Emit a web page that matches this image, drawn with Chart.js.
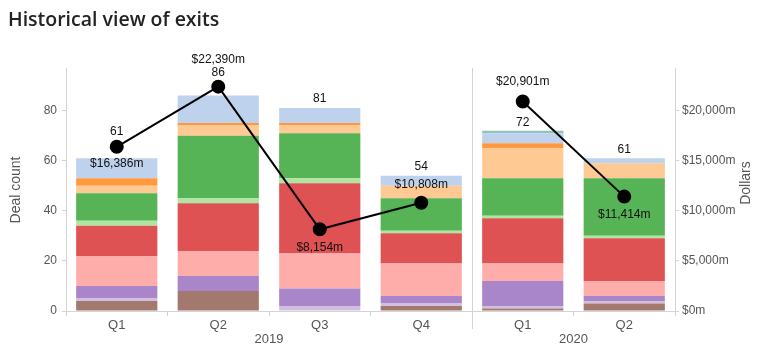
<!DOCTYPE html>
<html>
<head>
<meta charset="utf-8">
<script src="https://cdn.jsdelivr.net/npm/chart.js@4.4.1/dist/chart.umd.min.js"></script>
<style>
  body { margin: 0; background: #fff; }
  #wrap { position: relative; width: 759px; height: 351px; }
  #title { position: absolute; left: 8px; top: 5px; font: 600 19.5px "Open Sans", sans-serif; color: #222; }
  canvas { position: absolute; left: 0; top: 0; }
</style>
</head>
<body>
<div id="wrap">
  <canvas id="exits" width="759" height="351"></canvas>
  <div id="title">Historical view of exits</div>
</div>
<script>
const quarters = ['Q1', 'Q2', 'Q3', 'Q4', 'Q1', 'Q2'];
const years = ['2019', '2019', '2019', '2019', '2020', '2020'];

// deal counts per segment, bottom to top
const brown   = [4, 8, 0, 2, 1, 3];
const lilac   = [1, 0, 2, 1, 1, 1];
const purple  = [5, 6, 7, 3, 10, 2];
const pink    = [12, 10, 14, 13, 7, 6];
const red     = [12, 19, 28, 12, 18, 17];
const mint    = [2, 2, 2, 1, 1, 1];
const green   = [11, 25, 18, 13, 15, 23];
const peach   = [3, 4, 3, 5, 12, 6];
const orange  = [3, 1, 1, 0, 2, 0];
const skyblue = [8, 11, 6, 4, 4, 2];
const teal    = [0, 0, 0, 0, 1, 0];

// exit value, $m
const dollars = [16386, 22390, 8154, 10808, 20901, 11414];

const countTicks = [0, 20, 40, 60, 80];
const dollarTicks = [0, 5000, 10000, 15000, 20000];

const segs = [
  [brown, 'rgb(163,120,111)'],
  [lilac, 'rgb(209,192,221)'],
  [purple, 'rgb(169,133,202)'],
  [pink, 'rgb(255,173,171)'],
  [red, 'rgb(222,82,83)'],
  [mint, 'rgb(173,229,161)'],
  [green, 'rgb(86,179,86)'],
  [peach, 'rgb(255,201,147)'],
  [orange, 'rgb(255,153,62)'],
  [skyblue, 'rgb(190,210,237)'],
  [teal, 'rgb(143,196,186)']
];

const fmt = v => '$' + v.toLocaleString('en-US') + 'm';
const totals = quarters.map((q, i) => segs.reduce((s, d) => s + d[0][i], 0));

const tickFont = { family: '"Liberation Sans", Arial', size: 12 };
const axisGrey = '#d4d4d4';

// label placement tweaks (like the original's collision avoidance)
const countAt = [['pt', -15], ['pt', -14], ['bar', -9], ['bar', -9], ['bar', -8], ['bar', -8]];
const dollarAt = [17, -27, 18, -18, -20, 18];

const extras = {
  id: 'extras',
  afterDatasetsDraw(chart) {
    const ctx = chart.ctx;
    const xs = chart.scales.x, y = chart.scales.y, y2 = chart.scales.y2;
    ctx.save();
    ctx.font = '12px "Liberation Sans", Arial';
    ctx.fillStyle = '#111';
    ctx.textAlign = 'center';
    ctx.textBaseline = 'middle';
    quarters.forEach((q, i) => {
      const x = xs.getPixelForValue(i);
      const py = y2.getPixelForValue(dollars[i]);
      const by = y.getPixelForValue(totals[i]);
      const c = countAt[i];
      ctx.fillText(String(totals[i]), x, (c[0] === 'pt' ? py : by) + c[1]);
      ctx.fillText(fmt(dollars[i]), x, py + dollarAt[i]);
    });
    ctx.restore();
  },
  afterDraw(chart) {
    const ctx = chart.ctx;
    const xs = chart.scales.x;
    const area = chart.chartArea;
    ctx.save();
    // year separators
    ctx.strokeStyle = axisGrey;
    ctx.lineWidth = 1;
    for (let i = 1; i < years.length; i++) {
      if (years[i] !== years[i - 1]) {
        const sx = Math.round((xs.getPixelForValue(i - 1) + xs.getPixelForValue(i)) / 2) + 0.5;
        ctx.beginPath();
        ctx.moveTo(sx, area.top);
        ctx.lineTo(sx, area.bottom + 18);
        ctx.stroke();
      }
    }
    // year labels
    ctx.font = '13px "Liberation Sans", Arial';
    ctx.fillStyle = '#555';
    ctx.textAlign = 'center';
    ctx.textBaseline = 'middle';
    [...new Set(years)].forEach(yr => {
      const idx = years.map((v, i) => v === yr ? i : -1).filter(i => i >= 0);
      const cx = idx.reduce((s, i) => s + xs.getPixelForValue(i), 0) / idx.length;
      ctx.fillText(yr, cx, area.bottom + 28);
    });
    // axis titles
    ctx.font = '14px "Liberation Sans", Arial';
    ctx.translate(16, 190);
    ctx.rotate(-Math.PI / 2);
    ctx.fillText('Deal count', 0, 0);
    ctx.rotate(Math.PI / 2);
    ctx.translate(746 - 16, 183 - 190);
    ctx.rotate(-Math.PI / 2);
    ctx.fillText('Dollars', 0, 0);
    ctx.restore();
  }
};

const barSets = segs.map((s, i) => ({
  type: 'bar',
  label: 'Segment ' + (i + 1),
  data: s[0],
  backgroundColor: s[1],
  borderWidth: 0,
  barPercentage: 0.8,
  categoryPercentage: 1,
  yAxisID: 'y',
  order: 2
}));

new Chart(document.getElementById('exits'), {
  type: 'bar',
  data: {
    labels: quarters,
    datasets: [{
      type: 'line',
      label: 'Dollars',
      data: dollars,
      yAxisID: 'y2',
      borderColor: '#000',
      borderWidth: 2,
      pointRadius: 6,
      pointBackgroundColor: '#000',
      pointBorderColor: '#000',
      tension: 0,
      order: 0,
      segment: {
        borderColor: c => years[c.p0DataIndex] !== years[c.p1DataIndex] ? 'rgba(0,0,0,0)' : '#000'
      }
    }, ...barSets]
  },
  options: {
    responsive: false,
    animation: false,
    layout: { padding: { top: 68 } },
    plugins: { legend: { display: false }, tooltip: { enabled: false } },
    scales: {
      x: {
        stacked: true,
        grid: { offset: true, drawOnChartArea: false, tickLength: 5, color: axisGrey },
        border: { color: axisGrey },
        ticks: { font: { family: '"Liberation Sans", Arial', size: 13 }, color: '#555', padding: 2 },
        afterFit: s => { s.height = 40; }
      },
      y: {
        stacked: true,
        position: 'left',
        min: 0,
        max: 97,
        afterBuildTicks: s => { s.ticks = countTicks.map(v => ({ value: v })); },
        ticks: { font: tickFont, color: '#555', padding: 5 },
        grid: { drawOnChartArea: false, tickLength: 4, color: axisGrey },
        border: { color: axisGrey },
        afterFit: s => { s.width = 66; }
      },
      y2: {
        position: 'right',
        min: 0,
        max: 24250,
        afterBuildTicks: s => { s.ticks = dollarTicks.map(v => ({ value: v })); },
        ticks: { font: tickFont, color: '#555', padding: 3, autoSkip: false, callback: v => fmt(v) },
        grid: { drawOnChartArea: false, tickLength: 4, color: axisGrey },
        border: { color: axisGrey },
        afterFit: s => { s.width = 84; }
      }
    }
  },
  plugins: [extras]
});
</script>
</body>
</html>
